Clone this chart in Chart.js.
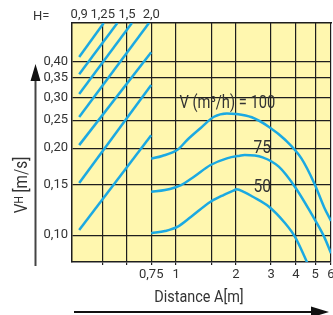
<!DOCTYPE html>
<html>
<head>
<meta charset="utf-8">
<script src="https://cdn.jsdelivr.net/npm/chart.js@4.4.1/dist/chart.umd.min.js"></script>
<style>
  html, body { margin: 0; padding: 0; background: #fff; }
  #wrap { width: 333px; height: 315px; position: relative; }
</style>
</head>
<body>
<div id="wrap"><canvas id="chart"></canvas></div>
<script>
// Distance A [m], bottom axis (log)
const distanceMin = 0.326;
const distanceMax = 6;
const distanceTicks = [0.428, 0.567, 0.75, 1, 1.5, 2, 3, 4, 5, 6];
const distanceLabels = ["", "", "0,75", "1", "", "2", "3", "4", "5", "6"];

// H values written over the left block
const hTicks = [0.326, 0.428, 0.567, 0.75];
const hLabels = ["0,9", "1,25", "1,5", "2,0"];

// VH [m/s], left axis (log)
const speedMin = 0.0807;
const speedMax = 0.543;
const speedTicks = [0.1, 0.15, 0.2, 0.25, 0.3, 0.35, 0.4];
const speedLabels = ["0,10", "0,15", "0,20", "0,25", "0,30", "0,35", "0,40"];

// diagonal lines of the left block, start and end points
const hLineX0 = [0.326, 0.326, 0.326, 0.326, 0.326, 0.326, 0.326];
const hLineY0 = [0.414, 0.361, 0.308, 0.2565, 0.205, 0.1515, 0.1042];
const hLineX1 = [0.433, 0.507, 0.6, 0.731, 0.75, 0.75, 0.75];
const hLineY1 = [0.543, 0.543, 0.543, 0.543, 0.43, 0.331, 0.222];

// throw curves, V (m3/h) = 100 / 75 / 50
const v100X = [0.75, 0.85, 1.02, 1.14, 1.33, 1.55, 1.8, 2.0, 2.4, 2.93, 3.53, 4.26, 4.95, 5.54, 6.0];
const v100Y = [0.184, 0.188, 0.198, 0.214, 0.235, 0.257, 0.264, 0.263, 0.256, 0.237, 0.214, 0.1845, 0.151, 0.125, 0.112];
const v75X = [0.75, 0.88, 1.06, 1.23, 1.49, 1.8, 2.09, 2.21, 2.72, 3.28, 3.95, 4.77, 5.54, 6.0];
const v75Y = [0.1414, 0.1433, 0.1491, 0.1593, 0.1749, 0.1845, 0.1884, 0.1894, 0.186, 0.1726, 0.1471, 0.119, 0.0988, 0.0865];
const v50X = [0.75, 0.88, 1.02, 1.19, 1.49, 1.73, 1.94, 2.01, 2.2, 2.43, 2.93, 3.53, 3.95, 4.42, 4.6];
const v50Y = [0.1015, 0.1033, 0.107, 0.1158, 0.1305, 0.1377, 0.1425, 0.1441, 0.141, 0.1358, 0.1254, 0.1099, 0.0988, 0.0842, 0.079];

const BLUE = "#1BA9E2";
const INK = "#333";
const GRID = "#1e1e1e";

function toPoints(xs, ys) {
  return xs.map((x, i) => ({ x: x, y: ys[i] }));
}

function lineDataset(points) {
  return {
    data: points,
    borderColor: BLUE,
    borderWidth: 2.5,
    pointRadius: 0,
    fill: false,
    cubicInterpolationMode: "monotone",
  };
}

const datasets = [];
for (let i = 0; i < hLineX0.length; i++) {
  datasets.push(lineDataset([
    { x: hLineX0[i], y: hLineY0[i] },
    { x: hLineX1[i], y: hLineY1[i] },
  ]));
}
datasets.push(lineDataset(toPoints(v100X, v100Y)));
datasets.push(lineDataset(toPoints(v75X, v75Y)));
datasets.push(lineDataset(toPoints(v50X, v50Y)));

// text squeezed sideways, the original uses a narrow face
function narrowText(ctx, text, px, py, size, squeeze, align) {
  ctx.save();
  ctx.translate(px, py);
  ctx.scale(squeeze, 1);
  ctx.font = size + "px Roboto";
  ctx.textAlign = align;
  ctx.textBaseline = "middle";
  ctx.fillText(text, 0, 0);
  ctx.restore();
}

const decor = {
  id: "decor",
  beforeDraw(chart) {
    const { ctx, chartArea: a } = chart;
    ctx.save();
    ctx.fillStyle = "#FFF7AF";
    ctx.fillRect(a.left, a.top, a.right - a.left, a.bottom - a.top);
    ctx.restore();
  },
  afterDraw(chart) {
    const { ctx, scales } = chart;
    const sx = scales.x;
    const sy = scales.y;
    ctx.save();
    ctx.fillStyle = INK;

    ctx.font = "13px Roboto";
    ctx.textAlign = "left";
    ctx.textBaseline = "alphabetic";
    ctx.fillText("H=", 33, 20);

    // curve labels
    narrowText(ctx, "V (m³/h) = 100", sx.getPixelForValue(1.04), sy.getPixelForValue(0.2856), 17.5, 0.84, "left");
    narrowText(ctx, "75", sx.getPixelForValue(2.45), sy.getPixelForValue(0.1995), 18.5, 0.84, "left");
    narrowText(ctx, "50", sx.getPixelForValue(2.45), sy.getPixelForValue(0.1468), 18.5, 0.84, "left");

    // x title
    narrowText(ctx, "Distance A[m]", 199, 298, 16, 0.9, "center");

    // y title, rotated
    ctx.save();
    ctx.translate(27, 185);
    ctx.rotate(-Math.PI / 2);
    ctx.scale(0.85, 1);
    ctx.textBaseline = "alphabetic";
    ctx.textAlign = "left";
    ctx.font = "18px Roboto";
    const wV = ctx.measureText("V").width;
    const wRest = ctx.measureText(" [m/s]").width;
    ctx.font = "12px Roboto";
    const wH = ctx.measureText("H").width;
    let u = -(wV + wH + wRest) / 2;
    ctx.font = "18px Roboto";
    ctx.fillText("V", u, 0);
    u += wV;
    ctx.font = "12px Roboto";
    ctx.fillText("H", u, -4);
    u += wH;
    ctx.font = "18px Roboto";
    ctx.fillText(" [m/s]", u, 0);
    ctx.restore();

    // arrows
    ctx.strokeStyle = "#444";
    ctx.lineWidth = 2;
    ctx.beginPath();
    ctx.moveTo(35.5, 78);
    ctx.lineTo(35.5, 266);
    ctx.stroke();
    ctx.fillStyle = "#111";
    ctx.beginPath();
    ctx.moveTo(35.5, 64);
    ctx.lineTo(30.5, 81);
    ctx.lineTo(40.5, 81);
    ctx.closePath();
    ctx.fill();

    ctx.strokeStyle = "#111";
    ctx.beginPath();
    ctx.moveTo(74, 312);
    ctx.lineTo(314, 312);
    ctx.stroke();
    ctx.beginPath();
    ctx.moveTo(329, 312);
    ctx.lineTo(311, 306.5);
    ctx.lineTo(311, 317.5);
    ctx.closePath();
    ctx.fill();
    ctx.restore();
  },
};

const tickFont = { family: "Roboto", size: 13 };

new Chart(document.getElementById("chart"), {
  type: "line",
  data: { datasets },
  options: {
    responsive: true,
    maintainAspectRatio: false,
    animation: false,
    layout: { padding: { left: 0, right: 2, top: 0, bottom: 0 } },
    plugins: {
      legend: { display: false },
      tooltip: { enabled: false },
    },
    scales: {
      x: {
        type: "logarithmic",
        position: "bottom",
        min: distanceMin,
        max: distanceMax,
        afterBuildTicks: (s) => {
          s.ticks = distanceTicks.map((v) => ({ value: v }));
        },
        afterFit: (s) => {
          s.height = 53;
          s.paddingLeft = 0;
          s.paddingRight = 0;
        },
        ticks: {
          autoSkip: false,
          maxRotation: 0,
          padding: 2,
          font: tickFont,
          color: INK,
          callback: (v, i) => distanceLabels[i],
        },
        grid: { color: GRID, lineWidth: 1.2, tickLength: 3, drawTicks: true },
        border: { display: true, color: GRID, width: 1.5 },
      },
      xTop: {
        type: "logarithmic",
        position: "top",
        min: distanceMin,
        max: distanceMax,
        afterBuildTicks: (s) => {
          s.ticks = hTicks.map((v) => ({ value: v }));
        },
        afterFit: (s) => {
          s.height = 23;
          s.paddingLeft = 0;
          s.paddingRight = 0;
        },
        ticks: {
          autoSkip: false,
          maxRotation: 0,
          padding: 0,
          font: tickFont,
          color: INK,
          callback: (v, i) => hLabels[i],
        },
        grid: { display: false, drawTicks: false },
        border: { display: true, color: GRID, width: 1.5 },
      },
      y: {
        type: "logarithmic",
        position: "left",
        min: speedMin,
        max: speedMax,
        afterBuildTicks: (s) => {
          s.ticks = speedTicks.map((v) => ({ value: v }));
        },
        afterFit: (s) => {
          s.width = 72;
          s.paddingTop = 0;
          s.paddingBottom = 0;
        },
        ticks: {
          autoSkip: false,
          padding: 4,
          font: tickFont,
          color: INK,
          callback: (v, i) => speedLabels[i],
        },
        grid: { color: GRID, lineWidth: 1.2, drawTicks: false },
        border: { display: true, color: GRID, width: 1.5 },
      },
    },
  },
  plugins: [decor],
});
</script>
</body>
</html>
